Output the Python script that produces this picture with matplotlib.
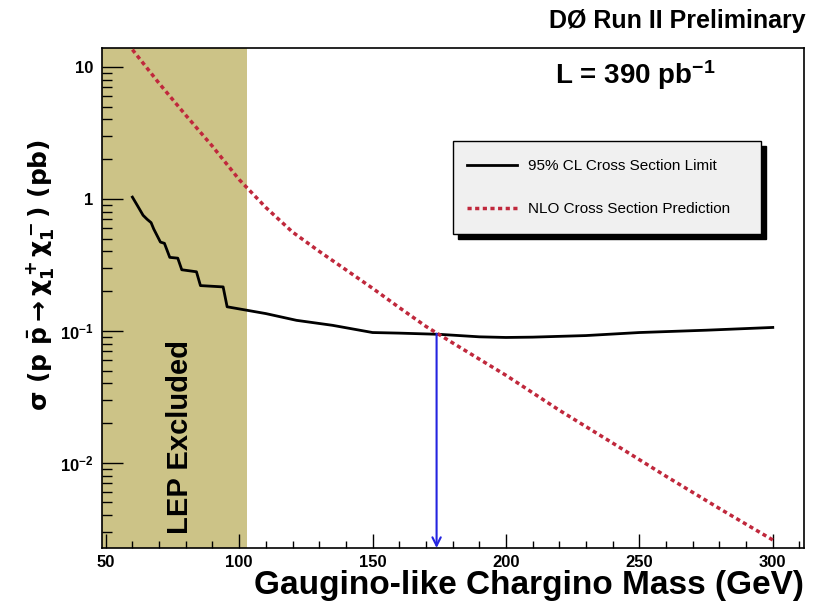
import matplotlib
matplotlib.use('Agg')
import matplotlib.pyplot as plt
from matplotlib.patches import Rectangle
from matplotlib.ticker import MultipleLocator, LogLocator, NullFormatter

# 95% CL observed limit (black line)
limit_mass = [60, 62, 64, 65.5, 67, 68, 70.5, 72, 74, 77, 78.5, 84, 85.5, 94, 95.5,
              110, 121.5, 135, 150, 160, 175, 190, 200, 210, 230, 250, 275, 300]
limit_xsec = [1.03, 0.88, 0.75, 0.70, 0.66, 0.59, 0.47, 0.46, 0.36, 0.355, 0.29, 0.28, 0.22, 0.215, 0.152,
              0.135, 0.12, 0.11, 0.097, 0.096, 0.094, 0.090, 0.089, 0.0895, 0.092, 0.097, 0.101, 0.106]

# NLO prediction (red dashed)
nlo_mass = [60, 70, 80, 90, 100, 110, 120, 130, 140, 150, 160, 170, 180, 190, 200,
            220, 240, 260, 280, 300]
nlo_xsec = [13.5, 7.5, 4.3, 2.5, 1.4, 0.86, 0.56, 0.40, 0.29, 0.21, 0.15, 0.108, 0.081, 0.061, 0.046,
            0.025, 0.0141, 0.0079, 0.0045, 0.0026]

# mass limit (blue arrow) and LEP exclusion
excl_mass = 174
excl_xsec = 0.095
lep_limit = 103

xlim = (48.6, 311.7)
ylim = (0.00226, 13.9)

plt.rcParams['font.family'] = ['Liberation Sans', 'DejaVu Sans']
plt.rcParams['font.weight'] = 'bold'
plt.rcParams['axes.labelweight'] = 'bold'
plt.rcParams['mathtext.fontset'] = 'custom'
plt.rcParams['mathtext.rm'] = 'Liberation Sans:bold'
plt.rcParams['mathtext.it'] = 'Liberation Sans:bold'
plt.rcParams['mathtext.bf'] = 'Liberation Sans:bold'
plt.rcParams['mathtext.default'] = 'rm'

fig = plt.figure(figsize=(8.14, 6.08), dpi=100)
ax = fig.add_axes([0.1253, 0.0987, 0.8624, 0.8224])

ax.axvspan(xlim[0], lep_limit, color='#ccc387', lw=0, zorder=0)
ax.plot(limit_mass, limit_xsec, color='black', lw=2, label='95% CL Cross Section Limit', zorder=3)
ax.plot(nlo_mass, nlo_xsec, color='#c0283c', lw=2.5, ls=(0, (1.2, 1.0)),
        label='NLO Cross Section Prediction', zorder=3)

ax.annotate('', xy=(excl_mass, ylim[0]), xytext=(excl_mass, excl_xsec),
            arrowprops=dict(arrowstyle='->', color='#2424e0', lw=1.5, mutation_scale=15,
                            shrinkA=0, shrinkB=0), zorder=4)

ax.set_yscale('log')
ax.set_xlim(*xlim)
ax.set_ylim(*ylim)

# ticks
ax.set_xticks([50, 100, 150, 200, 250, 300])
ax.xaxis.set_minor_locator(MultipleLocator(10))
ax.set_yticks([0.01, 0.1, 1, 10])
ax.set_yticklabels(['10$^{-2}$', '10$^{-1}$', '1', '10'])
ax.yaxis.set_minor_locator(LogLocator(base=10, subs=range(2, 10)))
ax.yaxis.set_minor_formatter(NullFormatter())
ax.tick_params(axis='x', which='major', direction='in', length=10, width=1, labelsize=12, pad=5, top=False)
ax.tick_params(axis='x', which='minor', direction='in', length=5, width=1, top=False)
ax.tick_params(axis='y', which='major', direction='in', length=15, width=1, labelsize=12, pad=6, right=False)
ax.tick_params(axis='y', which='minor', direction='in', length=7.5, width=1, right=False)
for s in ax.spines.values():
    s.set_linewidth(1.2)

# legend box with solid shadow
ax.add_patch(Rectangle((0.507, 0.618), 0.439, 0.186, transform=ax.transAxes,
                       color='black', zorder=5))
ax.add_patch(Rectangle((0.5, 0.628), 0.439, 0.186, transform=ax.transAxes,
                       fc='#f0f0f0', ec='black', lw=1, zorder=5))
leg = ax.legend(loc='center left', bbox_to_anchor=(0.5, 0.721), frameon=False,
                prop={'size': 11, 'weight': 'normal'}, handlelength=3.3,
                handletextpad=0.7, labelspacing=1.9)
leg.set_zorder(6)

# labels
ax.set_xlabel('Gaugino-like Chargino Mass (GeV)', fontsize=24, loc='right')
ax.xaxis.set_label_coords(1.0, -0.045)
ax.set_ylabel(r'$\mathbf{\sigma\ (p\ \bar{p} \rightarrow \chi_1^+\chi_1^-)\ (pb)}$', fontsize=18,
              math_fontfamily='dejavusans')
ax.yaxis.set_label_coords(-0.066, 0.546)

fig.text(0.99, 0.965, 'DØ Run II Preliminary', ha='right', va='center', fontsize=18)
ax.text(0.645, 0.946, 'L = 390 pb$^{-1}$', transform=ax.transAxes, ha='left', va='center', fontsize=20)
ax.text(77.8, 0.0157, 'LEP Excluded', rotation=90, ha='center', va='center', fontsize=21)

fig.savefig('out.png', dpi=100)
